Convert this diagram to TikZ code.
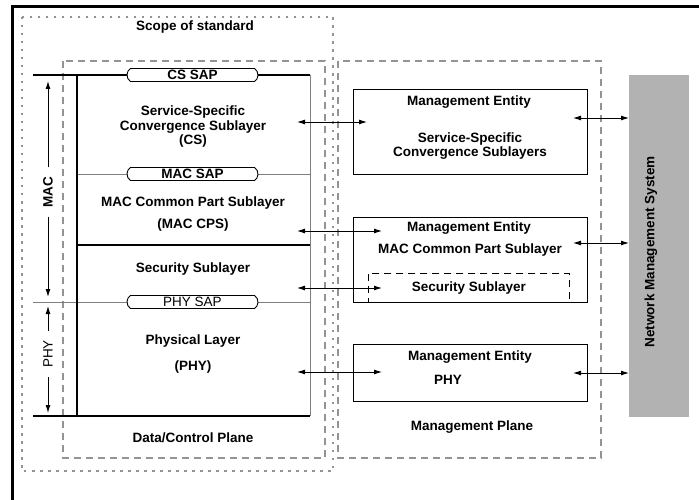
\documentclass[tikz,border=0pt]{standalone}
\usepackage{fontspec}
\setmainfont{Liberation Sans}
\usetikzlibrary{positioning,shapes.misc,arrows.meta}

\begin{document}
\begin{tikzpicture}[x=1pt, y=-1pt, font=\fontsize{13.5}{14.5}\selectfont\bfseries,
  >={Latex[length=8pt,width=5pt]},
  scopebox/.style={draw=gray!85, line width=1.4pt, dash pattern=on 2.5pt off 5.5pt},
  planebox/.style={draw=gray!85, line width=1.2pt, dash pattern=on 7pt off 5pt},
  sap/.style={rounded rectangle, rounded rectangle arc length=110, draw, line width=0.9pt,
    fill=white, minimum width=131pt, minimum height=13pt, inner sep=0pt},
  mebox/.style={draw, line width=1.1pt, anchor=north west, inner sep=0pt},
  link/.style={<->, line width=0.9pt},
  side/.style={rotate=90, inner sep=9pt}]

  \useasboundingbox (0,0) rectangle (699,500);
  \draw[line width=3pt] (699,7) -- (12,7) -- (12,500);

  \draw[scopebox] (22,17) rectangle (333,471);
  \draw[planebox] (63,61) rectangle (325,458);
  \draw[planebox] (338,61) rectangle (601,458);

  \draw[gray, line width=1pt] (310,75) -- (310,416);
  \draw[gray, line width=0.9pt] (77,174) -- (310,174);
  \draw[gray, line width=0.9pt] (33,302) -- (310,302);
  \draw[line width=1.2pt] (77,245) -- (310,245);
  \draw[line width=1.2pt] (33,75) -- (310,75);
  \draw[line width=1.2pt] (33,416) -- (310,416);
  \draw[line width=1.4pt] (77,75) -- (77,416);

  \node[sap] (cssap) at (192.5,75) {CS SAP};
  \node[sap] (macsap) at (192.5,174) {MAC SAP};
  \node[sap, font=\fontsize{13.5}{14.5}\selectfont] (physap) at (192.5,302) {PHY SAP};

  \node (scope) at (195,27) {Scope of standard};
  \node[align=center] (cs) at (193,127) {Service-Specific\\Convergence Sublayer\\(CS)};
  \node[align=center] (cps) at (193,214) {MAC Common Part Sublayer\\[7pt](MAC CPS)};
  \node (sec) at (193,269) {Security Sublayer};
  \node[align=center] (phy) at (193,354) {Physical Layer\\[12pt](PHY)};
  \node (dcp) at (193,438) {Data/Control Plane};

  \node[side] (maclbl) at (48,192) {MAC};
  \node[side, font=\fontsize{13.5}{14.5}\selectfont] (phylbl) at (48,354) {PHY};
  \coordinate (mactop) at (48,81);
  \coordinate (macbot) at (48,297);
  \coordinate (phytop) at (48,306);
  \coordinate (phybot) at (48,413);
  \draw[->, line width=1pt] (maclbl) -- (mactop);
  \draw[->, line width=1pt] (maclbl) -- (macbot);
  \draw[->, line width=1pt] (phylbl) -- (phytop);
  \draw[->, line width=1pt] (phylbl) -- (phybot);

  \node[draw, line width=0.9pt, dash pattern=on 7pt off 5pt, anchor=north west,
    minimum width=201pt, minimum height=29pt, inner sep=0pt] (secbox) at (368,273) {Security Sublayer};
  \node[mebox, minimum width=234pt, minimum height=85pt] (me1) at (353,89) {};
  \node[mebox, minimum width=234pt, minimum height=85pt] (me2) at (353,217) {};
  \node[mebox, minimum width=234pt, minimum height=57pt] (me3) at (353,344) {};

  \node (me1t) at (469,102) {Management Entity};
  \node[align=center] (me1s) at (470,146) {Service-Specific\\Convergence Sublayers};
  \node (me2t) at (469,228) {Management Entity};
  \node (me2s) at (470,250) {MAC Common Part Sublayer};
  \node (me3t) at (470,357) {Management Entity};
  \node (me3s) at (448,380) {PHY};
  \node (mp) at (472,427) {Management Plane};

  \node[fill=black!30, anchor=north west, minimum width=60pt, minimum height=342pt,
    inner sep=0pt] (nms) at (629,75) {};
  \node[rotate=90] (nmslbl) at (651,252) {Network Management System};

  \foreach \y/\x [count=\i] in {122/367, 231/382, 288/382, 372/382} {
    \coordinate (sl\i) at (297,\y);
    \coordinate (ml\i) at (\x,\y);
    \draw[link] (sl\i) -- (ml\i);
  }
  \foreach \y [count=\i] in {118, 243, 373} {
    \coordinate (mr\i) at (573,\y);
    \draw[link] (mr\i) -- (mr\i -| nms.west);
  }
\end{tikzpicture}
\end{document}
